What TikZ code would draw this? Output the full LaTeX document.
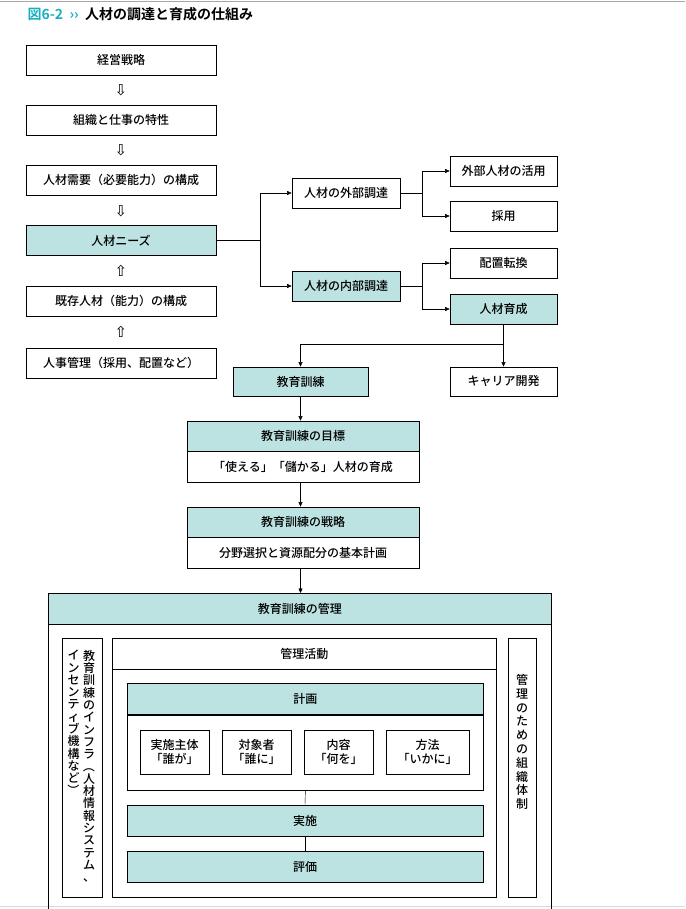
\documentclass[tikz,border=0pt]{standalone}
\usepackage{fontspec}
\setmainfont{Noto Sans CJK JP}[BoldFont={Noto Sans CJK JP Bold}]
\newfontfamily\medfont{Noto Sans CJK JP Medium}
\newfontfamily\arrfont{DejaVu Sans}
\usetikzlibrary{arrows.meta}
\definecolor{teal1}{HTML}{BCE2E2}
\definecolor{titlec}{HTML}{1AAFC0}
\tikzset{
  box/.style={draw, thick, rectangle, inner sep=0pt, font=\medfont\fontsize{12}{14.5}\selectfont},
  hd/.style={box, fill=teal1},
  arr/.style={-{Triangle[length=4.5pt,width=4pt]}},
  updown/.style={font=\arrfont\fontsize{15}{16}\selectfont},
}
\newcommand{\vrp}[1]{\rotatebox[origin=c]{-90}{#1}}
\begin{document}
\begin{tikzpicture}[x=1pt,y=-1pt]
\useasboundingbox (0,0) rectangle (685,909);
\draw[gray!70, thick] (0,1.5) -- (685,1.5);
\draw[gray!30] (0,906) -- (685,906);
\node[anchor=west, font=\fontsize{14}{16}\selectfont\bfseries] (title) at (24,14) {\textcolor{titlec}{図6-2\ \ ››}\ \ 人材の調達と育成の仕組み};
%% left column
\node[box, minimum width=190pt, minimum height=30pt] (keiei) at (121,60) {経営戦略};
\node[updown] at (121,90) {⇩};
\node[box, minimum width=190pt, minimum height=30pt] (soshiki) at (121,120) {組織と仕事の特性};
\node[updown] at (121,150) {⇩};
\node[box, minimum width=190pt, minimum height=30pt] (juyo) at (121,180) {人材需要（必要能力）の構成};
\node[updown] at (121,211) {⇩};
\node[hd, minimum width=190pt, minimum height=30pt] (needs) at (121,240.5) {人材ニーズ};
\node[updown] at (121,271) {⇧};
\node[box, minimum width=190pt, minimum height=30pt] (kizon) at (121,301) {既存人材（能力）の構成};
\node[updown] at (121,332) {⇧};
\node[box, minimum width=190pt, minimum height=30pt] (jinji) at (121,363) {人事管理（採用、配置など）};
%% procurement
\node[box, minimum width=108pt, minimum height=30pt] (gaibu) at (346,193) {人材の外部調達};
\node[hd, minimum width=108pt, minimum height=30pt] (naibu) at (346,286) {人材の内部調達};
\coordinate (b1) at (260,240.5);
\draw (needs.east) -- (b1);
\draw[arr] (b1) |- (gaibu.west);
\draw[arr] (b1) |- (naibu.west);
\node[box, minimum width=107pt, minimum height=30pt] (katsuyo) at (503.5,171) {外部人材の活用};
\node[box, minimum width=107pt, minimum height=30pt] (saiyo) at (503.5,216) {採用};
\node[box, minimum width=107pt, minimum height=30pt] (haichi) at (503.5,263) {配置転換};
\node[hd, minimum width=107pt, minimum height=30pt] (ikusei) at (503.5,309) {人材育成};
\coordinate (b2) at (422,193);
\coordinate (b3) at (422,286);
\draw (gaibu.east) -- (b2);
\draw[arr] (b2) |- (katsuyo.west);
\draw[arr] (b2) |- (saiyo.west);
\draw (naibu.east) -- (b3);
\draw[arr] (b3) |- (haichi.west);
\draw[arr] (b3) |- (ikusei.west);
%% training
\node[hd, minimum width=135pt, minimum height=29pt] (kyoiku) at (300.5,381.5) {教育訓練};
\node[box, minimum width=107pt, minimum height=29pt] (career) at (503.5,381.5) {キャリア開発};
\coordinate (b4) at (503.5,344);
\draw (ikusei.south) -- (b4);
\draw[arr] (b4) -| (kyoiku.north);
\draw[arr] (b4) -- (career.north);
\node[hd, minimum width=232pt, minimum height=30pt] (mokuhyo) at (303,436) {教育訓練の目標};
\node[box, minimum width=232pt, minimum height=31pt, anchor=north] (mokuhyo2) at (mokuhyo.south) {「使える」「儲かる」人材の育成};
\draw[arr] (kyoiku.south) -- (kyoiku.south |- mokuhyo.north);
\node[hd, minimum width=232pt, minimum height=30pt] (senryaku) at (303,522) {教育訓練の戦略};
\node[box, minimum width=232pt, minimum height=31pt, anchor=north] (senryaku2) at (senryaku.south) {分野選択と資源配分の基本計画};
\draw[arr] (mokuhyo2.south -| kyoiku.south) -- (kyoiku.south |- senryaku.north);
%% management
\draw[thick] (48,593) rectangle (551,920);
\node[hd, minimum width=503pt, minimum height=31pt, anchor=north west] (kanri) at (48,593) {教育訓練の管理};
\draw[arr] (senryaku2.south -| kyoiku.south) -- (kyoiku.south |- kanri.north);
\node[box, minimum width=40pt, minimum height=259pt, anchor=north west] (infra) at (62,638) {};
\node[box, minimum width=28pt, minimum height=259pt, anchor=north west] (taisei) at (508,638) {};
\node[anchor=north, align=center, font=\medfont\fontsize{12}{12.3}\selectfont, inner sep=0pt] at (89,650)
  {教\\育\\訓\\練\\の\\イ\\ン\\フ\\ラ\\\vrp{（}\\人\\材\\情\\報\\シ\\ス\\テ\\ム\\、};
\node[anchor=north, align=center, font=\medfont\fontsize{12}{12.3}\selectfont, inner sep=0pt] at (73.5,650)
  {イ\\ン\\セ\\ン\\テ\\ィ\\ブ\\機\\構\\な\\ど\\\vrp{）}};
\node[anchor=center, align=center, font=\medfont\fontsize{12}{13.8}\selectfont, inner sep=0pt] at (522,742)
  {管\\理\\の\\た\\め\\の\\組\\織\\体\\制};
\node[box, minimum width=384pt, minimum height=259pt, anchor=north west] (katsudo) at (112,638) {};
\node[box, minimum width=384pt, minimum height=31pt, anchor=north west] (katsudoh) at (112,638) {管理活動};
\node[hd, minimum width=356pt, minimum height=31pt, anchor=north west] (keikaku) at (127,683) {計画};
\node[box, minimum width=356pt, minimum height=75pt, anchor=north] (keikaku2) at (keikaku.south) {};
\node[box, minimum width=69pt, minimum height=44pt, align=center] (shutai) at (174.5,752) {実施主体\\「誰が」};
\node[box, minimum width=69pt, minimum height=44pt, align=center] (taisho) at (256.5,752) {対象者\\「誰に」};
\node[box, minimum width=69pt, minimum height=44pt, align=center] (naiyo) at (338.5,752) {内容\\「何を」};
\node[box, minimum width=83pt, minimum height=44pt, align=center] (hoho) at (427.5,752) {方法\\「いかに」};
\node[hd, minimum width=356pt, minimum height=31pt] (jisshi) at (305,820.5) {実施};
\node[hd, minimum width=356pt, minimum height=31pt] (hyoka) at (305,866.5) {評価};
\draw (keikaku2.south) -- (jisshi.north);
\draw (jisshi.south) -- (hyoka.north);
\end{tikzpicture}
\end{document}
